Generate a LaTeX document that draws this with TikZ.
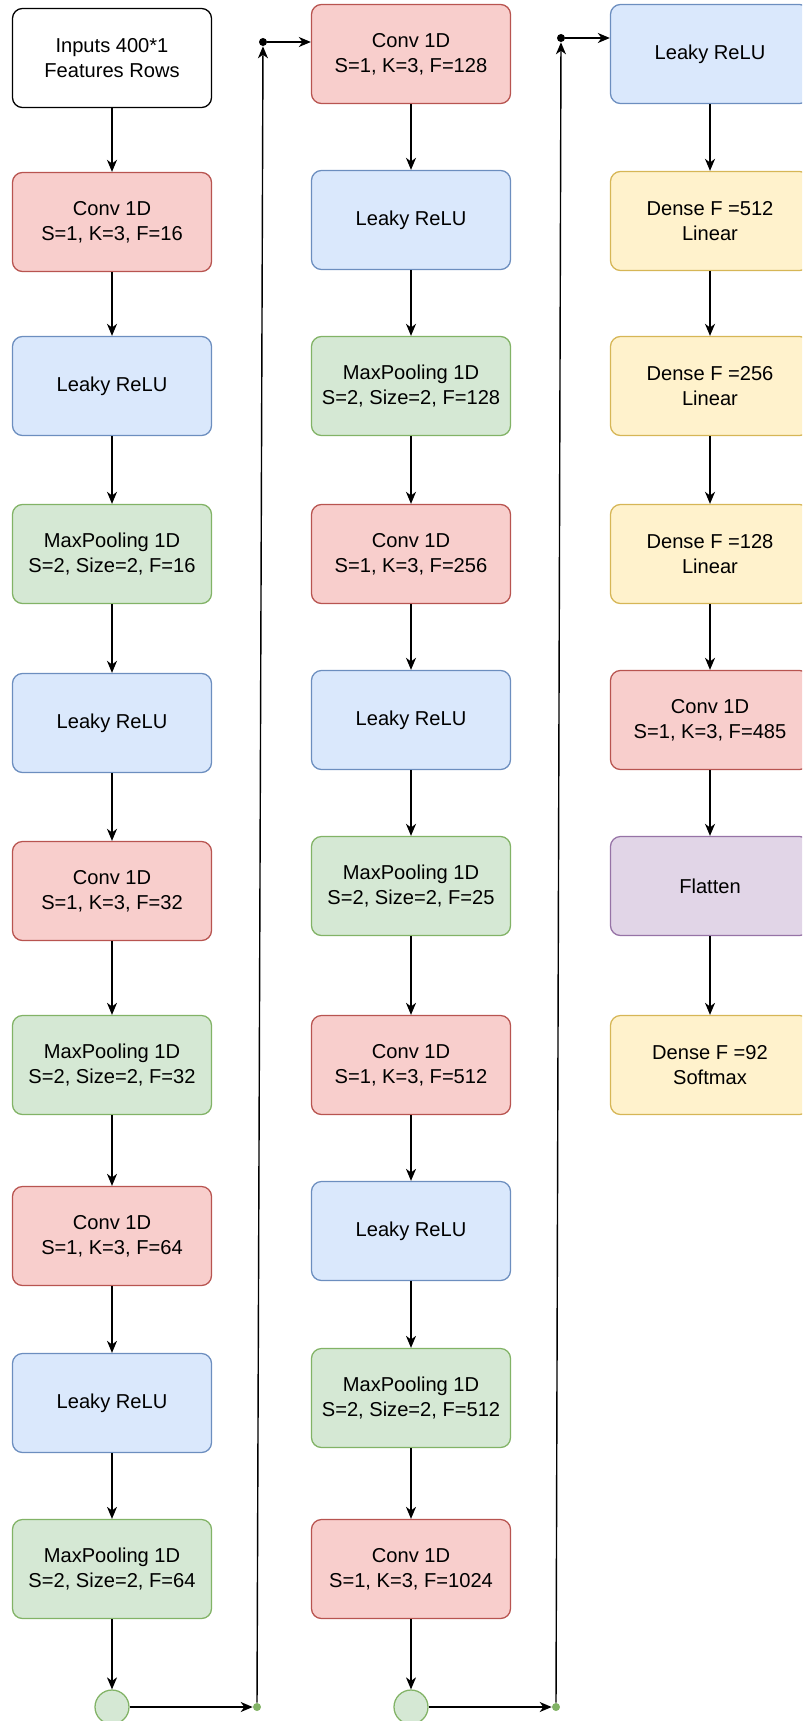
\documentclass[tikz,border=0pt]{standalone}
\usepackage{fontspec}
\setmainfont{Liberation Sans}
\usetikzlibrary{arrows.meta}
\definecolor{redfill}{HTML}{F8CECC}\definecolor{redline}{HTML}{B85450}
\definecolor{bluefill}{HTML}{DAE8FC}\definecolor{blueline}{HTML}{6C8EBF}
\definecolor{greenfill}{HTML}{D5E8D4}\definecolor{greenline}{HTML}{82B366}
\definecolor{yellowfill}{HTML}{FFF2CC}\definecolor{yellowline}{HTML}{D6B656}
\definecolor{purplefill}{HTML}{E1D5E7}\definecolor{purpleline}{HTML}{9673A6}
\begin{document}
\begin{tikzpicture}[x=0.025cm,y=-0.025cm,
  layer/.style={draw,rounded corners=0.25cm,line width=0.9pt,minimum width=4.975cm,minimum height=2.475cm,align=center,font=\fontsize{14.3pt}{17.8pt}\selectfont},
  inbox/.style={layer,draw=black,fill=white},
  conv/.style={layer,draw=redline,fill=redfill},
  relu/.style={layer,draw=blueline,fill=bluefill},
  pool/.style={layer,draw=greenline,fill=greenfill},
  dense/.style={layer,draw=yellowline,fill=yellowfill},
  flat/.style={layer,draw=purpleline,fill=purplefill},
  joint/.style={circle,draw=greenline,fill=greenfill,line width=0.9pt,minimum size=0.85cm,inner sep=0},
  dot/.style={circle,fill,inner sep=0,minimum size=0.2cm},
  arr/.style={-{Stealth[length=0.3cm,width=0.25cm,inset=0.09cm]},line width=1pt}]
\clip (0,0) rectangle (802,1721);
\useasboundingbox (0,0) rectangle (802,1721);
\node [inbox] (in) at (112,58) {Inputs 400*1\\Features Rows};
\node [conv] (a1) at (112,222) {Conv 1D\\S=1, K=3, F=16};
\node [relu] (a2) at (112,386) {Leaky ReLU};
\node [pool] (a3) at (112,554) {MaxPooling 1D\\S=2, Size=2, F=16};
\node [relu] (a4) at (112,723) {Leaky ReLU};
\node [conv] (a5) at (112,891) {Conv 1D\\S=1, K=3, F=32};
\node [pool] (a6) at (112,1065) {MaxPooling 1D\\S=2, Size=2, F=32};
\node [conv] (a7) at (112,1236) {Conv 1D\\S=1, K=3, F=64};
\node [relu] (a8) at (112,1403) {Leaky ReLU};
\node [pool] (a9) at (112,1569) {MaxPooling 1D\\S=2, Size=2, F=64};
\node [joint] (j1) at (112,1707) {};
\node [dot,fill=greenline] (g1) at (257,1707) {};
\node [dot] (k1) at (263,42) {};
\node [conv] (b1) at (411,54) {Conv 1D\\S=1, K=3, F=128};
\node [relu] (b2) at (411,220) {Leaky ReLU};
\node [pool] (b3) at (411,386) {MaxPooling 1D\\S=2, Size=2, F=128};
\node [conv] (b4) at (411,554) {Conv 1D\\S=1, K=3, F=256};
\node [relu] (b5) at (411,720) {Leaky ReLU};
\node [pool] (b6) at (411,886) {MaxPooling 1D\\S=2, Size=2, F=25};
\node [conv] (b7) at (411,1065) {Conv 1D\\S=1, K=3, F=512};
\node [relu] (b8) at (411,1231) {Leaky ReLU};
\node [pool] (b9) at (411,1398) {MaxPooling 1D\\S=2, Size=2, F=512};
\node [conv] (b10) at (411,1569) {Conv 1D\\S=1, K=3, F=1024};
\node [joint] (j2) at (411,1707) {};
\node [dot,fill=greenline] (g2) at (556,1707) {};
\node [dot] (k2) at (561,38) {};
\node [relu] (c1) at (710,54) {Leaky ReLU};
\node [dense] (c2) at (710,221) {Dense F =512\\Linear};
\node [dense] (c3) at (710,386) {Dense F =256\\Linear};
\node [dense] (c4) at (710,554) {Dense F =128\\Linear};
\node [conv] (c5) at (710,720) {Conv 1D\\S=1, K=3, F=485};
\node [flat] (c6) at (710,886) {Flatten};
\node [dense] (c7) at (710,1065) {Dense F =92\\Softmax};
\draw [arr] (in) -- (a1);
\draw [arr] (a1) -- (a2);
\draw [arr] (a2) -- (a3);
\draw [arr] (a3) -- (a4);
\draw [arr] (a4) -- (a5);
\draw [arr] (a5) -- (a6);
\draw [arr] (a6) -- (a7);
\draw [arr] (a7) -- (a8);
\draw [arr] (a8) -- (a9);
\draw [arr] (a9) -- (j1);
\draw [arr] (j1) -- (g1);
\draw [arr] (g1) -- (k1);
\draw [arr] (k1) -- (k1 -| b1.west);
\draw [arr] (b1) -- (b2);
\draw [arr] (b2) -- (b3);
\draw [arr] (b3) -- (b4);
\draw [arr] (b4) -- (b5);
\draw [arr] (b5) -- (b6);
\draw [arr] (b6) -- (b7);
\draw [arr] (b7) -- (b8);
\draw [arr] (b8) -- (b9);
\draw [arr] (b9) -- (b10);
\draw [arr] (b10) -- (j2);
\draw [arr] (j2) -- (g2);
\draw [arr] (g2) -- (k2);
\draw [arr] (k2) -- (k2 -| c1.west);
\draw [arr] (c1) -- (c2);
\draw [arr] (c2) -- (c3);
\draw [arr] (c3) -- (c4);
\draw [arr] (c4) -- (c5);
\draw [arr] (c5) -- (c6);
\draw [arr] (c6) -- (c7);
\end{tikzpicture}
\end{document}
